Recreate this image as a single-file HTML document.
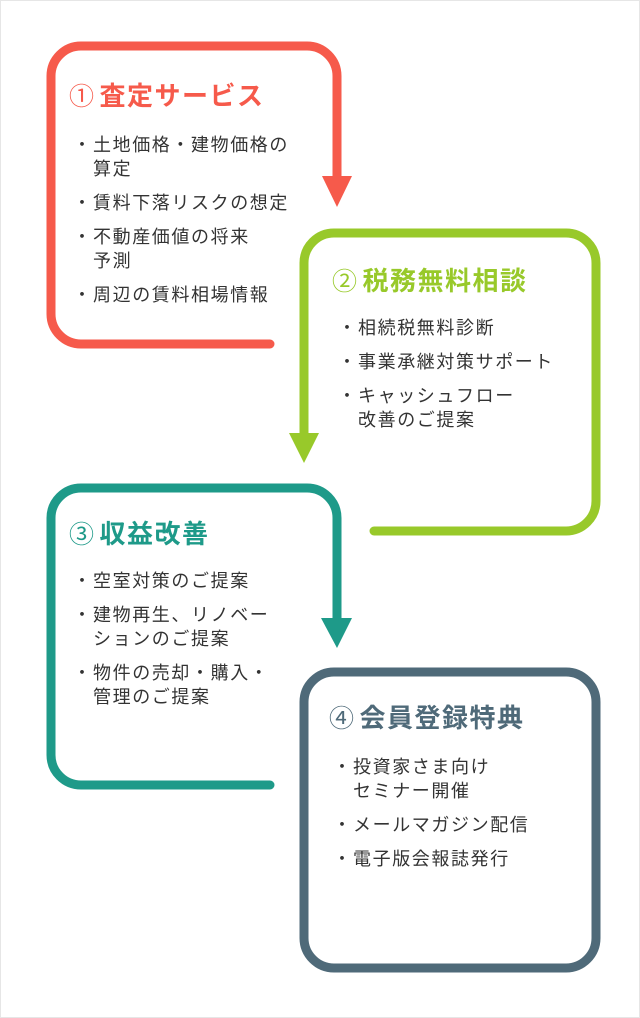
<!DOCTYPE html>
<html><head><meta charset="utf-8"><style>
html,body{margin:0;padding:0;}
body{width:640px;height:1018px;position:relative;background:#fff;font-family:"Liberation Sans","Noto Sans CJK JP",sans-serif;overflow:hidden;}
.frame{position:absolute;left:0;top:0;width:638px;height:1016px;border:1px solid #e6e6e6;}
svg{position:absolute;left:0;top:0;}
.t{position:absolute;font-size:26px;font-weight:bold;line-height:28px;white-space:nowrap;letter-spacing:1.5px;}
.t .n{font-weight:normal;margin-right:4px;font-size:25px;}
.l{position:absolute;font-size:18px;letter-spacing:1.6px;line-height:24px;color:#333;white-space:nowrap;}
.l div{position:relative;padding-left:18px;margin-bottom:10px;}
.l div::before{content:"・";position:absolute;left:-2px;top:0;}
</style></head><body>
<div class="frame"></div>
<svg width="640" height="1018" viewBox="0 0 640 1018">
<g fill="none" stroke-width="9" stroke-linecap="round" stroke-linejoin="round">
<path d="M270 344 H81 A30 30 0 0 1 51 314 V76 A30 30 0 0 1 81 46 H307 A30 30 0 0 1 337 76 V180" stroke="#f65a4b"/>
<path d="M374 531 H566 A30 30 0 0 0 596 501 V263 A30 30 0 0 0 566 233 H334 A30 30 0 0 0 304 263 V436" stroke="#98c92a"/>
<path d="M270 785 H81 A30 30 0 0 1 51 755 V518 A30 30 0 0 1 81 488 H307 A30 30 0 0 1 337 518 V620" stroke="#1e9a89"/>
<rect x="304" y="672" width="292" height="296" rx="30" stroke="#4f6a79"/>
</g>
<polygon points="322,176 352,176 337,207" fill="#f65a4b"/>
<polygon points="289,433 319,433 304,463" fill="#98c92a"/>
<polygon points="321,618 352,618 337,648" fill="#1e9a89"/>
</svg>

<div class="t" style="left:69px;top:82px;color:#f65a4b"><span class="n">①</span>査定サービス</div>
<div class="l" style="left:75px;top:133px">
<div>土地価格・建物価格の<br>算定</div>
<div>賃料下落リスクの想定</div>
<div>不動産価値の将来<br>予測</div>
<div>周辺の賃料相場情報</div>
</div>

<div class="t" style="left:332px;top:267px;color:#98c92a"><span class="n">②</span>税務無料相談</div>
<div class="l" style="left:340px;top:316px">
<div>相続税無料診断</div>
<div>事業承継対策サポート</div>
<div>キャッシュフロー<br>改善のご提案</div>
</div>

<div class="t" style="left:69px;top:520px;color:#1e9a89"><span class="n">③</span>収益改善</div>
<div class="l" style="left:75px;top:569px">
<div>空室対策のご提案</div>
<div>建物再生、リノベー<br>ションのご提案</div>
<div>物件の売却・購入・<br>管理のご提案</div>
</div>

<div class="t" style="left:329px;top:704px;color:#4f6a79"><span class="n">④</span>会員登録特典</div>
<div class="l" style="left:335px;top:755px">
<div>投資家さま向け<br>セミナー開催</div>
<div>メールマガジン配信</div>
<div>電子版会報誌発行</div>
</div>
</body></html>
